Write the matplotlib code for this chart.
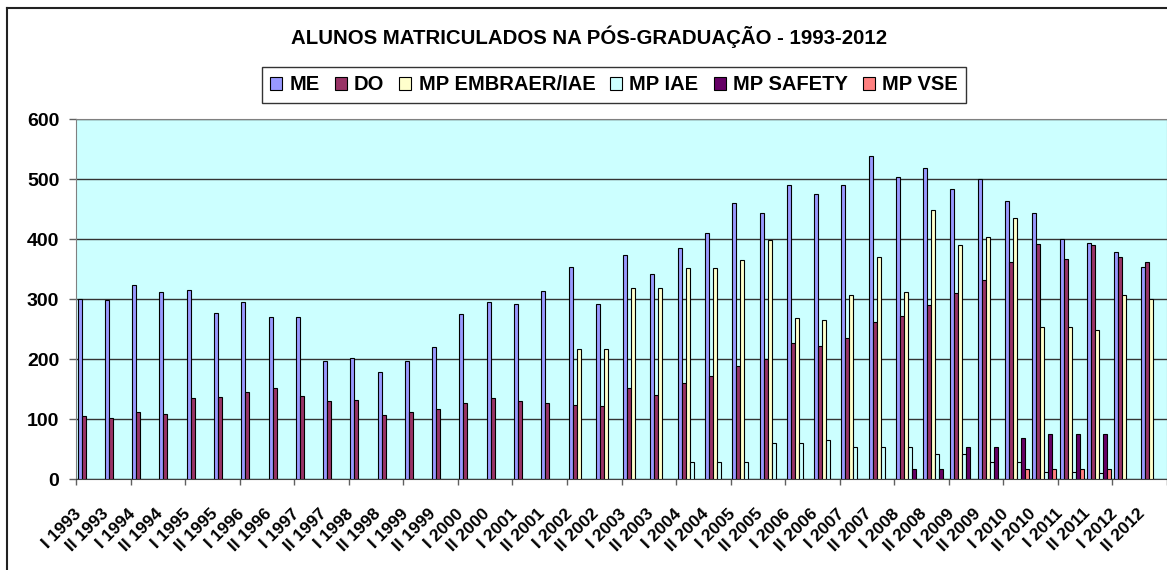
import numpy as np
import matplotlib
matplotlib.use("Agg")
import matplotlib.pyplot as plt
import matplotlib.transforms as mtransforms

plt.rcParams["font.family"] = ["Liberation Sans", "DejaVu Sans"]
plt.rcParams["font.weight"] = "bold"

years = list(range(1993, 2013))
categories = [f"{s} {y}" for y in years for s in ("I", "II")]

me = [301, 299, 324, 312, 316, 278, 295, 271, 271, 198, 202, 179, 198, 221, 276, 295, 293, 314, 354, 293,
      373, 343, 386, 411, 461, 444, 491, 476, 491, 539, 503, 518, 484, 501, 463, 444, 401, 394, 379, 354]
do = [105, 103, 112, 109, 135, 137, 145, 152, 139, 131, 133, 107, 112, 118, 128, 135, 131, 128, 124, 122,
      152, 141, 160, 173, 189, 200, 227, 223, 236, 262, 272, 291, 310, 333, 362, 392, 368, 390, 371, 362]
mp_embraer = [0] * 18 + [217, 217, 319, 319, 352, 352, 366, 398, 269, 266, 308, 371, 312, 449, 390, 403,
                         436, 254, 254, 249, 308, 301]
mp_iae = [0] * 22 + [29, 29, 29, 61, 61, 65, 54, 54, 54, 42, 42, 29, 29, 13, 13, 10, 0, 0]
mp_safety = [0] * 30 + [18, 18, 54, 54, 69, 76, 76, 76, 0, 0]
mp_vse = [0] * 34 + [18, 18, 18, 18, 0, 0]

series = [
    ("ME", me, "#9999FF"),
    ("DO", do, "#993366"),
    ("MP EMBRAER/IAE", mp_embraer, "#FFFFCC"),
    ("MP IAE", mp_iae, "#CCFFFF"),
    ("MP SAFETY", mp_safety, "#660066"),
    ("MP VSE", mp_vse, "#FF8080"),
]

fig = plt.figure(figsize=(11.67, 5.70), dpi=100)
ax = fig.add_axes([76 / 1167, 90.7 / 570, 1 - 76 / 1167, 360 / 570])
ax.set_facecolor("#CCFFFF")

n = len(categories)
bar_w = 0.88 / len(series)
x = np.arange(n)
for j, (name, vals, color) in enumerate(series):
    vals = np.array(vals, dtype=float)
    mask = vals > 0
    ax.bar(x[mask] + 0.06 + j * bar_w, vals[mask], width=bar_w, align="edge",
           color=color, edgecolor="black", linewidth=0.8, label=name, zorder=3)

ax.set_xlim(0, n)
ax.set_ylim(0, 600)
ax.set_yticks(range(0, 601, 100))
ax.yaxis.grid(True, color="#333333", linewidth=1, zorder=1)
ax.tick_params(axis="y", labelsize=14, length=5, width=1, color="#606060", pad=7)

# tick marks every two categories, labels on every category
ax.set_xticks(range(0, n + 1, 2))
ax.set_xticklabels([])
ax.set_xticks(x + 0.5, minor=True)
ax.set_xticklabels(categories, minor=True, rotation=45, ha="right", va="center",
                   rotation_mode="anchor", fontsize=12.5)
ax.tick_params(axis="x", which="major", length=4.5, width=1, color="#606060")
ax.tick_params(axis="x", which="minor", length=0, pad=23)
shift = mtransforms.ScaledTranslation(-11 / 100, 0, fig.dpi_scale_trans)
for lbl in ax.get_xticklabels(minor=True):
    lbl.set_transform(lbl.get_transform() + shift)

for side in ("top", "right"):
    ax.spines[side].set_color("#808080")
ax.spines["left"].set_color("#808080")
ax.spines["bottom"].set_color("#404040")

fig.text(589 / 1167, 1 - 37 / 570, "ALUNOS MATRICULADOS NA PÓS-GRADUAÇÃO - 1993-2012",
         ha="center", va="center", fontsize=14.7, fontweight="bold")

leg = fig.legend(loc="center", bbox_to_anchor=(614 / 1167, 1 - 85 / 570), ncol=6,
                 fontsize=14.5, frameon=True, fancybox=False, edgecolor="black",
                 handlelength=0.6, handleheight=0.6, handletextpad=0.35, columnspacing=0.75,
                 borderpad=0.4, borderaxespad=0)
leg.get_frame().set_linewidth(1)

# outer chart frame (left and top edges visible)
fig.add_artist(plt.Line2D([7 / 1167, 7 / 1167], [0, 1 - 8 / 570], color="#222222", linewidth=1.5,
                          transform=fig.transFigure))
fig.add_artist(plt.Line2D([7 / 1167, 1], [1 - 8 / 570, 1 - 8 / 570], color="#222222", linewidth=1.5,
                          transform=fig.transFigure))

fig.savefig("out.png", dpi=100)
